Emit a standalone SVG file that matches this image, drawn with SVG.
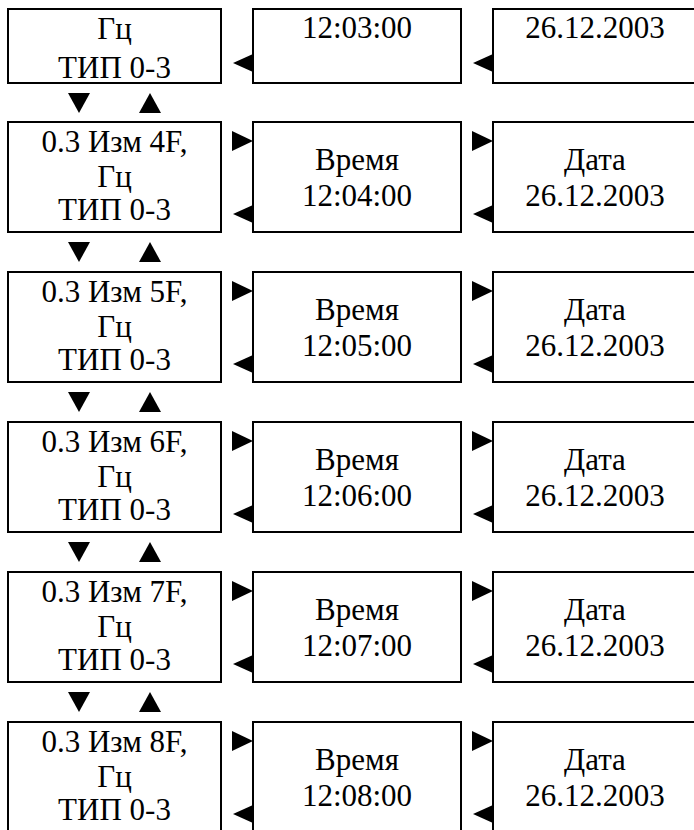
<svg xmlns="http://www.w3.org/2000/svg" width="694" height="830" viewBox="0 0 694 830">
<style>
.box{fill:#fff;stroke:#000;stroke-width:2}
text{font-family:'Liberation Serif','Times New Roman',serif;font-size:31px;fill:#000;text-anchor:middle}
.arr{fill:#000}
</style>
<rect x="0" y="0" width="694" height="830" fill="#fff"/>
<!-- Row 1 -->
<g id="r1-mode"><rect class="box" x="8" y="9" width="213" height="74"/><text x="114.5" y="39">Гц</text><text x="114.5" y="78">ТИП 0-3</text></g>
<g id="r1-time"><rect class="box" x="253" y="9" width="208" height="74"/><text x="357" y="38">12:03:00</text></g>
<g id="r1-date"><rect class="box" x="493" y="9" width="210" height="74"/><text x="595" y="38">26.12.2003</text></g>
<!-- Row 2 -->
<g id="r2-mode"><rect class="box" x="8" y="122" width="213" height="110"/><text x="114.5" y="152">0.3 Изм 4F,</text><text x="114.5" y="187">Гц</text><text x="114.5" y="220">ТИП 0-3</text></g>
<g id="r2-time"><rect class="box" x="253" y="122" width="208" height="110"/><text x="357" y="170">Время</text><text x="357" y="206">12:04:00</text></g>
<g id="r2-date"><rect class="box" x="493" y="122" width="210" height="110"/><text x="595" y="170">Дата</text><text x="595" y="206">26.12.2003</text></g>
<!-- Row 3 -->
<g id="r3-mode"><rect class="box" x="8" y="272" width="213" height="110"/><text x="114.5" y="302">0.3 Изм 5F,</text><text x="114.5" y="337">Гц</text><text x="114.5" y="370">ТИП 0-3</text></g>
<g id="r3-time"><rect class="box" x="253" y="272" width="208" height="110"/><text x="357" y="320">Время</text><text x="357" y="356">12:05:00</text></g>
<g id="r3-date"><rect class="box" x="493" y="272" width="210" height="110"/><text x="595" y="320">Дата</text><text x="595" y="356">26.12.2003</text></g>
<!-- Row 4 -->
<g id="r4-mode"><rect class="box" x="8" y="422" width="213" height="110"/><text x="114.5" y="452">0.3 Изм 6F,</text><text x="114.5" y="487">Гц</text><text x="114.5" y="520">ТИП 0-3</text></g>
<g id="r4-time"><rect class="box" x="253" y="422" width="208" height="110"/><text x="357" y="470">Время</text><text x="357" y="506">12:06:00</text></g>
<g id="r4-date"><rect class="box" x="493" y="422" width="210" height="110"/><text x="595" y="470">Дата</text><text x="595" y="506">26.12.2003</text></g>
<!-- Row 5 -->
<g id="r5-mode"><rect class="box" x="8" y="572" width="213" height="110"/><text x="114.5" y="602">0.3 Изм 7F,</text><text x="114.5" y="637">Гц</text><text x="114.5" y="670">ТИП 0-3</text></g>
<g id="r5-time"><rect class="box" x="253" y="572" width="208" height="110"/><text x="357" y="620">Время</text><text x="357" y="656">12:07:00</text></g>
<g id="r5-date"><rect class="box" x="493" y="572" width="210" height="110"/><text x="595" y="620">Дата</text><text x="595" y="656">26.12.2003</text></g>
<!-- Row 6 -->
<g id="r6-mode"><rect class="box" x="8" y="722" width="213" height="110"/><text x="114.5" y="752">0.3 Изм 8F,</text><text x="114.5" y="787">Гц</text><text x="114.5" y="820">ТИП 0-3</text></g>
<g id="r6-time"><rect class="box" x="253" y="722" width="208" height="110"/><text x="357" y="770">Время</text><text x="357" y="806">12:08:00</text></g>
<g id="r6-date"><rect class="box" x="493" y="722" width="210" height="110"/><text x="595" y="770">Дата</text><text x="595" y="806">26.12.2003</text></g>
<!-- Connectors -->
<g id="connectors" class="arr">
<polygon points="233,63 253,54 253,72"/>
<polygon points="473,63 493,54 493,72"/>
<polygon points="68,93 90,93 79,113"/><polygon points="139,113 161,113 150,93"/>
<polygon points="68,242 90,242 79,262"/><polygon points="139,262 161,262 150,242"/>
<polygon points="68,392 90,392 79,412"/><polygon points="139,412 161,412 150,392"/>
<polygon points="68,542 90,542 79,562"/><polygon points="139,562 161,562 150,542"/>
<polygon points="68,692 90,692 79,712"/><polygon points="139,712 161,712 150,692"/>
<polygon points="232,131 253,141 232,151"/><polygon points="472,131 493,141 472,151"/>
<polygon points="233,214 253,205 253,223"/><polygon points="473,214 493,205 493,223"/>
<polygon points="232,281 253,291 232,301"/><polygon points="472,281 493,291 472,301"/>
<polygon points="233,364 253,355 253,373"/><polygon points="473,364 493,355 493,373"/>
<polygon points="232,431 253,441 232,451"/><polygon points="472,431 493,441 472,451"/>
<polygon points="233,514 253,505 253,523"/><polygon points="473,514 493,505 493,523"/>
<polygon points="232,581 253,591 232,601"/><polygon points="472,581 493,591 472,601"/>
<polygon points="233,664 253,655 253,673"/><polygon points="473,664 493,655 493,673"/>
<polygon points="232,731 253,741 232,751"/><polygon points="472,731 493,741 472,751"/>
<polygon points="233,814 253,805 253,823"/><polygon points="473,814 493,805 493,823"/>
</g>
</svg>
